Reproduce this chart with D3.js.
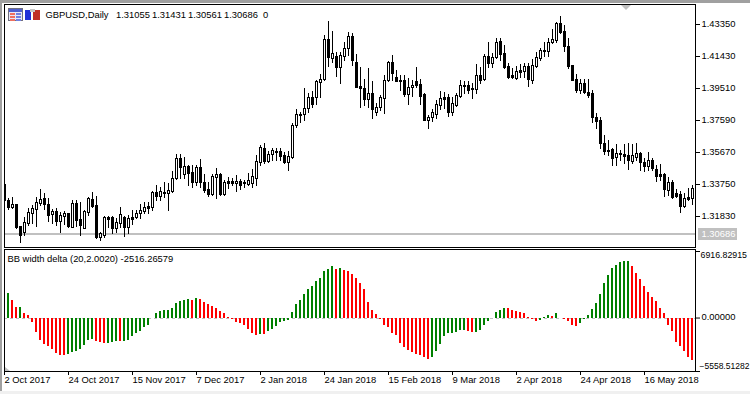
<!DOCTYPE html>
<html lang="en">
<head>
  <meta charset="UTF-8">
  <title>GBPUSD,Daily</title>
  <script src="https://d3js.org/d3.v7.min.js"></script>
  <style>
    html, body { margin: 0; padding: 0; background: #fff; overflow: hidden; }
    svg { display: block; }
    text { font-family: "Liberation Sans", sans-serif; font-size: 9.4px; fill: #000; }
  </style>
</head>
<body>
  <svg width="750" height="394"></svg>

  <script>
    const opens = [
      1.3375,1.3279,1.3237,1.3255,1.3123,1.3087,1.3141,1.3201,1.3225,1.3261,
      1.3291,1.3255,1.3195,1.3213,1.3153,1.3183,1.3201,1.3117,1.3261,1.3165,
      1.3111,1.3207,1.3285,1.3249,1.3057,1.3069,1.3177,1.3177,1.3111,1.3141,
      1.3177,1.3117,1.3177,1.3177,1.3201,1.3213,1.3243,1.3237,1.3327,1.3303,
      1.3327,1.3321,1.3333,1.3411,1.3531,1.3435,1.3483,1.3447,1.3387,1.3477,
      1.3387,1.3345,1.3315,1.3417,1.3435,1.3315,1.3393,1.3393,1.3381,1.3393,
      1.3387,1.3375,1.3381,1.3411,1.3507,1.3591,1.3513,1.3555,1.3567,1.3573,
      1.3549,1.3507,1.3537,1.3729,1.3789,1.3795,1.3831,1.3897,1.3897,1.3987,
      1.4005,1.4245,1.4131,1.4143,1.4077,1.4143,1.4191,1.4263,1.4107,1.3963,
      1.3951,1.3885,1.3921,1.3807,1.3837,1.3891,1.3999,1.4107,1.4017,1.3999,
      1.3999,1.3915,1.3957,1.3993,1.3975,1.3915,1.3759,1.3777,1.3795,1.3849,
      1.3897,1.3897,1.3807,1.3849,1.3903,1.3969,1.3969,1.3951,1.3945,1.4029,
      1.4005,1.4143,1.4101,1.4137,1.4233,1.4161,1.4083,1.4029,1.4011,1.4059,
      1.4053,1.4083,1.3999,1.4083,1.4131,1.4179,1.4173,1.4227,1.4239,1.4341,
      1.4293,1.4203,1.4089,1.4005,1.3939,1.3981,1.3927,1.3921,1.3777,1.3759,
      1.3621,1.3579,1.3585,1.3537,1.3561,1.3555,1.3549,1.3513,1.3537,1.3561,
      1.3507,1.3483,1.3519,1.3465,1.3435,1.3435,1.3339,1.3387,1.3321,1.3315,1.3243,1.3297,1.3291
    ];
    const highs = [
      1.3375,1.3291,1.3297,1.3255,1.3123,1.3177,1.3231,1.3249,1.3297,1.3345,
      1.3321,1.3291,1.3225,1.3231,1.3207,1.3213,1.3201,1.3279,1.3279,1.3267,
      1.3219,1.3297,1.3327,1.3303,1.3087,1.3183,1.3183,1.3183,1.3171,1.3237,
      1.3183,1.3189,1.3219,1.3219,1.3255,1.3267,1.3267,1.3333,1.3369,1.3357,
      1.3387,1.3381,1.3453,1.3555,1.3555,1.3537,1.3489,1.3489,1.3489,1.3525,
      1.3435,1.3387,1.3435,1.3471,1.3441,1.3399,1.3417,1.3411,1.3429,1.3405,
      1.3399,1.3441,1.3465,1.3549,1.3609,1.3621,1.3573,1.3591,1.3591,1.3591,
      1.3567,1.3573,1.3741,1.3825,1.3807,1.3951,1.3921,1.3933,1.3999,1.4035,
      1.4269,1.4353,1.4293,1.4167,1.4167,1.4227,1.4287,1.4281,1.4155,1.4077,
      1.4005,1.4071,1.3993,1.3861,1.3909,1.4029,1.4113,1.4149,1.4059,1.4029,
      1.4029,1.4011,1.3999,1.4077,1.4005,1.3921,1.3789,1.3825,1.3879,1.3933,
      1.3927,1.3915,1.3897,1.3921,1.3999,1.3993,1.3993,1.3981,1.4095,1.4077,
      1.4155,1.4227,1.4161,1.4251,1.4251,1.4209,1.4101,1.4071,1.4083,1.4095,
      1.4101,1.4101,1.4125,1.4167,1.4191,1.4227,1.4251,1.4305,1.4347,1.4383,
      1.4329,1.4251,1.4089,1.4035,1.4005,1.4005,1.4005,1.3939,1.3801,1.3777,
      1.3669,1.3639,1.3591,1.3615,1.3579,1.3615,1.3621,1.3615,1.3621,1.3567,
      1.3531,1.3567,1.3531,1.3489,1.3495,1.3441,1.3417,1.3399,1.3345,1.3333,1.3321,1.3351,1.3369
    ];
    const lows = [
      1.3219,1.3225,1.3231,1.3111,1.3027,1.3069,1.3129,1.3141,1.3123,1.3249,
      1.3225,1.3153,1.3141,1.3129,1.3087,1.3135,1.3117,1.3117,1.3123,1.3069,
      1.3111,1.3189,1.3237,1.3051,1.3039,1.3057,1.3117,1.3081,1.3087,1.3117,
      1.3063,1.3081,1.3135,1.3171,1.3171,1.3201,1.3201,1.3219,1.3279,1.3279,
      1.3297,1.3219,1.3327,1.3405,1.3411,1.3411,1.3369,1.3357,1.3369,1.3357,
      1.3327,1.3303,1.3309,1.3291,1.3309,1.3309,1.3351,1.3369,1.3333,1.3345,
      1.3357,1.3369,1.3357,1.3369,1.3489,1.3501,1.3507,1.3519,1.3519,1.3519,
      1.3501,1.3459,1.3531,1.3717,1.3747,1.3759,1.3807,1.3837,1.3855,1.3897,
      1.3999,1.4083,1.4107,1.4023,1.3981,1.4119,1.4149,1.4089,1.3957,1.3837,
      1.3849,1.3837,1.3771,1.3789,1.3819,1.3801,1.3993,1.3999,1.3993,1.3939,
      1.3903,1.3855,1.3903,1.3957,1.3855,1.3759,1.3711,1.3753,1.3771,1.3825,
      1.3831,1.3783,1.3789,1.3843,1.3897,1.3921,1.3921,1.3891,1.3921,1.3981,
      1.3999,1.4077,1.4077,1.4131,1.4119,1.4071,1.4011,1.4011,1.4005,1.4017,
      1.4017,1.3963,1.3981,1.4077,1.4119,1.4143,1.4143,1.4221,1.4227,1.4281,
      1.4173,1.4071,1.3999,1.3927,1.3921,1.3921,1.3897,1.3747,1.3711,1.3591,
      1.3555,1.3549,1.3489,1.3489,1.3519,1.3501,1.3465,1.3501,1.3519,1.3459,
      1.3453,1.3459,1.3459,1.3393,1.3399,1.3303,1.3309,1.3291,1.3297,1.3207,1.3237,1.3279,1.3255
    ];
    const closes = [
      1.3279,1.3237,1.3255,1.3117,1.3069,1.3147,1.3207,1.3231,1.3267,1.3285,
      1.3255,1.3189,1.3213,1.3153,1.3189,1.3201,1.3123,1.3261,1.3159,1.3129,
      1.3213,1.3291,1.3243,1.3057,1.3081,1.3177,1.3165,1.3111,1.3147,1.3195,
      1.3117,1.3171,1.3165,1.3201,1.3219,1.3237,1.3231,1.3327,1.3303,1.3333,
      1.3321,1.3339,1.3411,1.3531,1.3477,1.3483,1.3441,1.3387,1.3477,1.3387,
      1.3339,1.3315,1.3423,1.3435,1.3315,1.3387,1.3381,1.3381,1.3393,1.3369,
      1.3381,1.3399,1.3423,1.3513,1.3597,1.3513,1.3555,1.3579,1.3573,1.3543,
      1.3507,1.3543,1.3729,1.3795,1.3795,1.3831,1.3897,1.3855,1.3993,1.4005,
      1.4245,1.4137,1.4161,1.4077,1.4149,1.4191,1.4263,1.4119,1.3957,1.3951,
      1.3885,1.3921,1.3825,1.3837,1.3897,1.3999,1.4107,1.4041,1.3993,1.3993,
      1.3915,1.3957,1.3969,1.3969,1.3903,1.3759,1.3777,1.3807,1.3855,1.3891,
      1.3885,1.3807,1.3861,1.3909,1.3969,1.3963,1.3939,1.3945,1.4029,1.3999,
      1.4143,1.4101,1.4137,1.4227,1.4155,1.4077,1.4017,1.4017,1.4053,1.4047,
      1.4083,1.4005,1.4089,1.4137,1.4179,1.4173,1.4227,1.4245,1.4341,1.4287,
      1.4203,1.4083,1.3999,1.3939,1.3981,1.3927,1.3909,1.3777,1.3753,1.3621,
      1.3573,1.3573,1.3531,1.3561,1.3555,1.3543,1.3519,1.3549,1.3561,1.3507,
      1.3483,1.3519,1.3471,1.3423,1.3423,1.3345,1.3387,1.3297,1.3303,1.3243,1.3291,1.3285,1.3351
    ];
    // BB width delta, first bar has no value
    const delta = [
      null,2546,1789,1066,1101,482,241,-482,-1514,-2339,
      -2786,-2924,-3268,-3715,-3853,-3887,-3784,-3578,-3509,-3234,
      -2890,-2339,-2236,-2408,-2511,-2683,-2649,-2546,-2442,-2477,
      -2408,-2374,-1926,-1651,-1376,-963,-757,-69,482,654,
      757,826,998,1514,1720,1858,1892,1789,1995,1892,
      1617,1445,1204,998,688,482,69,-172,-482,-550,
      -791,-1204,-1582,-1823,-1720,-1720,-1410,-1204,-894,-482,
      -378,-275,550,1376,1789,2408,2924,3234,3750,4094,
      4885,5091,5401,5091,5194,4988,4885,4575,4059,3543,
      2924,1582,757,344,-172,-791,-998,-1617,-1823,-2649,
      -3062,-3371,-3578,-3784,-3887,-4094,-4300,-4094,-3474,-2752,
      -1926,-1651,-1617,-1514,-1342,-1307,-1410,-1548,-1514,-1307,
      -791,-378,-69,550,757,1032,1032,757,654,550,
      447,69,-172,-310,-275,20,241,138,447,-20,
      -172,-378,-791,-894,-585,-172,241,860,1479,2408,
      3543,4472,5194,5504,5814,5882,5917,5401,4678,3956,
      3234,2614,2098,1686,963,516,-791,-1410,-2546,-2958,-3474,-4059,-4403
    ];
    const dateLabels = ['2 Oct 2017','24 Oct 2017','15 Nov 2017','7 Dec 2017','2 Jan 2018','24 Jan 2018','15 Feb 2018','9 Mar 2018','2 Apr 2018','24 Apr 2018','16 May 2018'];
    const priceTicks = [1.43350,1.41430,1.39510,1.37590,1.35670,1.33750,1.31830];
    const deltaTicks = [6916.82915,0,-5558.51282];
    const lastPrice = 1.30686;
    const headerValues = ['1.31055','1.31431','1.30561','1.30686'];

    const svg = d3.select('svg');
    const n = closes.length;
    const left = 4, right = 695;

    const x = d3.scaleLinear().domain([0, n - 1]).range([4, 692]);
    const y = d3.scaleLinear().domain([1.2997, 1.4455]).range([247, 4]);
    const yDelta = d3.scaleLinear().domain([-5558.51282, 6916.82915]).range([371, 251]);

    // window edges
    svg.append('rect').attr('width', 750).attr('height', 3).attr('fill', '#a0a0a0');
    svg.append('rect').attr('width', 2).attr('height', 391).attr('fill', '#a0a0a0');
    svg.append('rect').attr('y', 391).attr('width', 750).attr('height', 3).attr('fill', '#f0f0f0');

    svg.append('clipPath').attr('id', 'main').append('rect')
      .attr('x', left).attr('y', 4).attr('width', right - left).attr('height', 243);

    const main = svg.append('g').attr('clip-path', 'url(#main)').attr('shape-rendering', 'crispEdges');

    // last price line sits behind the candles
    main.append('rect')
      .attr('x', left).attr('width', right - left)
      .attr('y', Math.round(y(lastPrice)) - 2).attr('height', 2)
      .attr('fill', '#c0c0c0');

    const idx = d3.range(n);
    main.selectAll('.wick').data(idx).join('rect')
      .attr('class', 'wick')
      .attr('x', i => x(i)).attr('width', 1)
      .attr('y', i => Math.round(y(highs[i])))
      .attr('height', i => Math.round(y(lows[i])) - Math.round(y(highs[i])) + 1)
      .attr('fill', '#000');

    main.selectAll('.body').data(idx).join('rect')
      .attr('class', 'body')
      .attr('x', i => x(i) - 1).attr('width', 3)
      .attr('y', i => Math.round(y(Math.max(opens[i], closes[i]))))
      .attr('height', i => Math.round(y(Math.min(opens[i], closes[i]))) - Math.round(y(Math.max(opens[i], closes[i]))) + 1)
      .attr('fill', '#000');

    // bull candles are hollow
    main.selectAll('.hollow').data(idx.filter(i => closes[i] > opens[i])).join('rect')
      .attr('class', 'hollow')
      .attr('x', i => x(i)).attr('width', 1)
      .attr('y', i => Math.round(y(closes[i])) + 1)
      .attr('height', i => Math.max(Math.round(y(opens[i])) - Math.round(y(closes[i])) - 1, 0))
      .attr('fill', '#fff');

    // lower panel
    const sub = svg.append('g').attr('shape-rendering', 'crispEdges');
    sub.append('line')
      .attr('x1', left).attr('x2', right)
      .attr('y1', Math.round(yDelta(0)) + 0.5).attr('y2', Math.round(yDelta(0)) + 0.5)
      .attr('stroke', '#c0c0c0').attr('stroke-dasharray', '3,3');

    sub.selectAll('.hist').data(idx.filter(i => delta[i] !== null)).join('rect')
      .attr('class', 'hist')
      .attr('x', i => x(i) - 1).attr('width', 2)
      .attr('y', i => Math.round(yDelta(Math.max(delta[i], 0))))
      .attr('height', i => Math.abs(Math.round(yDelta(delta[i])) - Math.round(yDelta(0))))
      .attr('fill', i => delta[i] > delta[i - 1] ? '#008000' : '#ff0000');

    // panel frames
    const frame = svg.append('g').attr('fill', 'none').attr('stroke', '#000').attr('shape-rendering', 'crispEdges');
    frame.append('rect').attr('x', left + 0.5).attr('y', 4.5).attr('width', right - left).attr('height', 243);
    frame.append('rect').attr('x', left + 0.5).attr('y', 249.5).attr('width', right - left).attr('height', 122);

    // shift marker and scale-fix triangle
    svg.append('path').attr('d', 'M621,5H631L626,10Z').attr('fill', '#c0c0c0');
    svg.append('path').attr('d', 'M5,367L5,371H10Z').attr('fill', '#c0c0c0');

    // axes
    const xAxis = d3.axisBottom(x)
      .tickValues(dateLabels.map((d, i) => i * 16))
      .tickFormat((d, i) => dateLabels[i])
      .tickSize(4).tickSizeOuter(0);
    const xg = svg.append('g').attr('transform', 'translate(0,371)').call(xAxis);
    xg.select('.domain').remove();
    xg.selectAll('text').attr('text-anchor', 'start').attr('x', 0).attr('y', 5).attr('dy', '0.71em');

    const yAxis = d3.axisRight(y).tickValues(priceTicks).tickFormat(d3.format('.5f')).tickSize(5);
    const yg = svg.append('g').attr('transform', `translate(${right},0)`).call(yAxis);
    yg.select('.domain').remove();
    yg.selectAll('text').attr('x', 6.5).attr('y', -1);

    const dAxis = d3.axisRight(yDelta).tickValues(deltaTicks).tickFormat(d3.format('.5f')).tickSize(5);
    const dg = svg.append('g').attr('transform', `translate(${right},0)`).call(dAxis);
    dg.select('.domain').remove();
    // outer labels sit inside the panel and are a touch smaller so they fit the window
    dg.selectAll('text').attr('x', (d, i) => [5.5, 6.5, 4.5][i])
      .attr('y', (d, i) => [4, -1, -5][i])
      .style('font-size', (d, i) => ['8.8px', null, '8.5px'][i]);

    // last price tag
    svg.append('rect').attr('x', 698).attr('y', 228).attr('width', 39).attr('height', 12).attr('fill', '#c0c0c0');
    svg.append('text').attr('x', 701.5).attr('y', 234).attr('dy', '0.33em').style('fill', '#fff').text(lastPrice.toFixed(5));

    // header text
    const headerY = 15;
    svg.append('text').attr('x', 45.5).attr('y', headerY).attr('dy', '0.33em').text('GBPUSD,Daily');
    headerValues.forEach((v, i) => {
      svg.append('text').attr('x', 116 + i * 36).attr('y', headerY).attr('dy', '0.33em').text(v);
    });
    svg.append('text').attr('x', 263).attr('y', headerY).attr('dy', '0.33em').text('0');
    svg.append('text').attr('x', 7.5).attr('y', 259).attr('dy', '0.33em').text('BB width delta (20,2.0020) -2516.26579');

    // toolbar icons next to the header
    const icons = svg.append('g').attr('shape-rendering', 'crispEdges');
    icons.append('rect').attr('x', 8.5).attr('y', 8.5).attr('width', 14).attr('height', 12).attr('fill', '#e8e8f8').attr('stroke', '#707080');
    icons.append('rect').attr('x', 9).attr('y', 9).attr('width', 13).attr('height', 3).attr('fill', '#5060d0');
    [12, 15, 18].forEach(r => {
      icons.append('rect').attr('x', 10).attr('y', r + 1).attr('width', 5).attr('height', 1.5).attr('fill', '#f07060');
      icons.append('rect').attr('x', 16).attr('y', r + 1).attr('width', 5).attr('height', 1.5).attr('fill', '#7080e0');
    });
    icons.append('rect').attr('x', 25).attr('y', 10).attr('width', 6).attr('height', 10).attr('fill', '#2030d8');
    icons.append('rect').attr('x', 33).attr('y', 10).attr('width', 7).attr('height', 10).attr('fill', '#c03028');
    icons.append('rect').attr('x', 30).attr('y', 9).attr('width', 5).attr('height', 3).attr('fill', '#c8c8c8');
  </script>
</body>
</html>
